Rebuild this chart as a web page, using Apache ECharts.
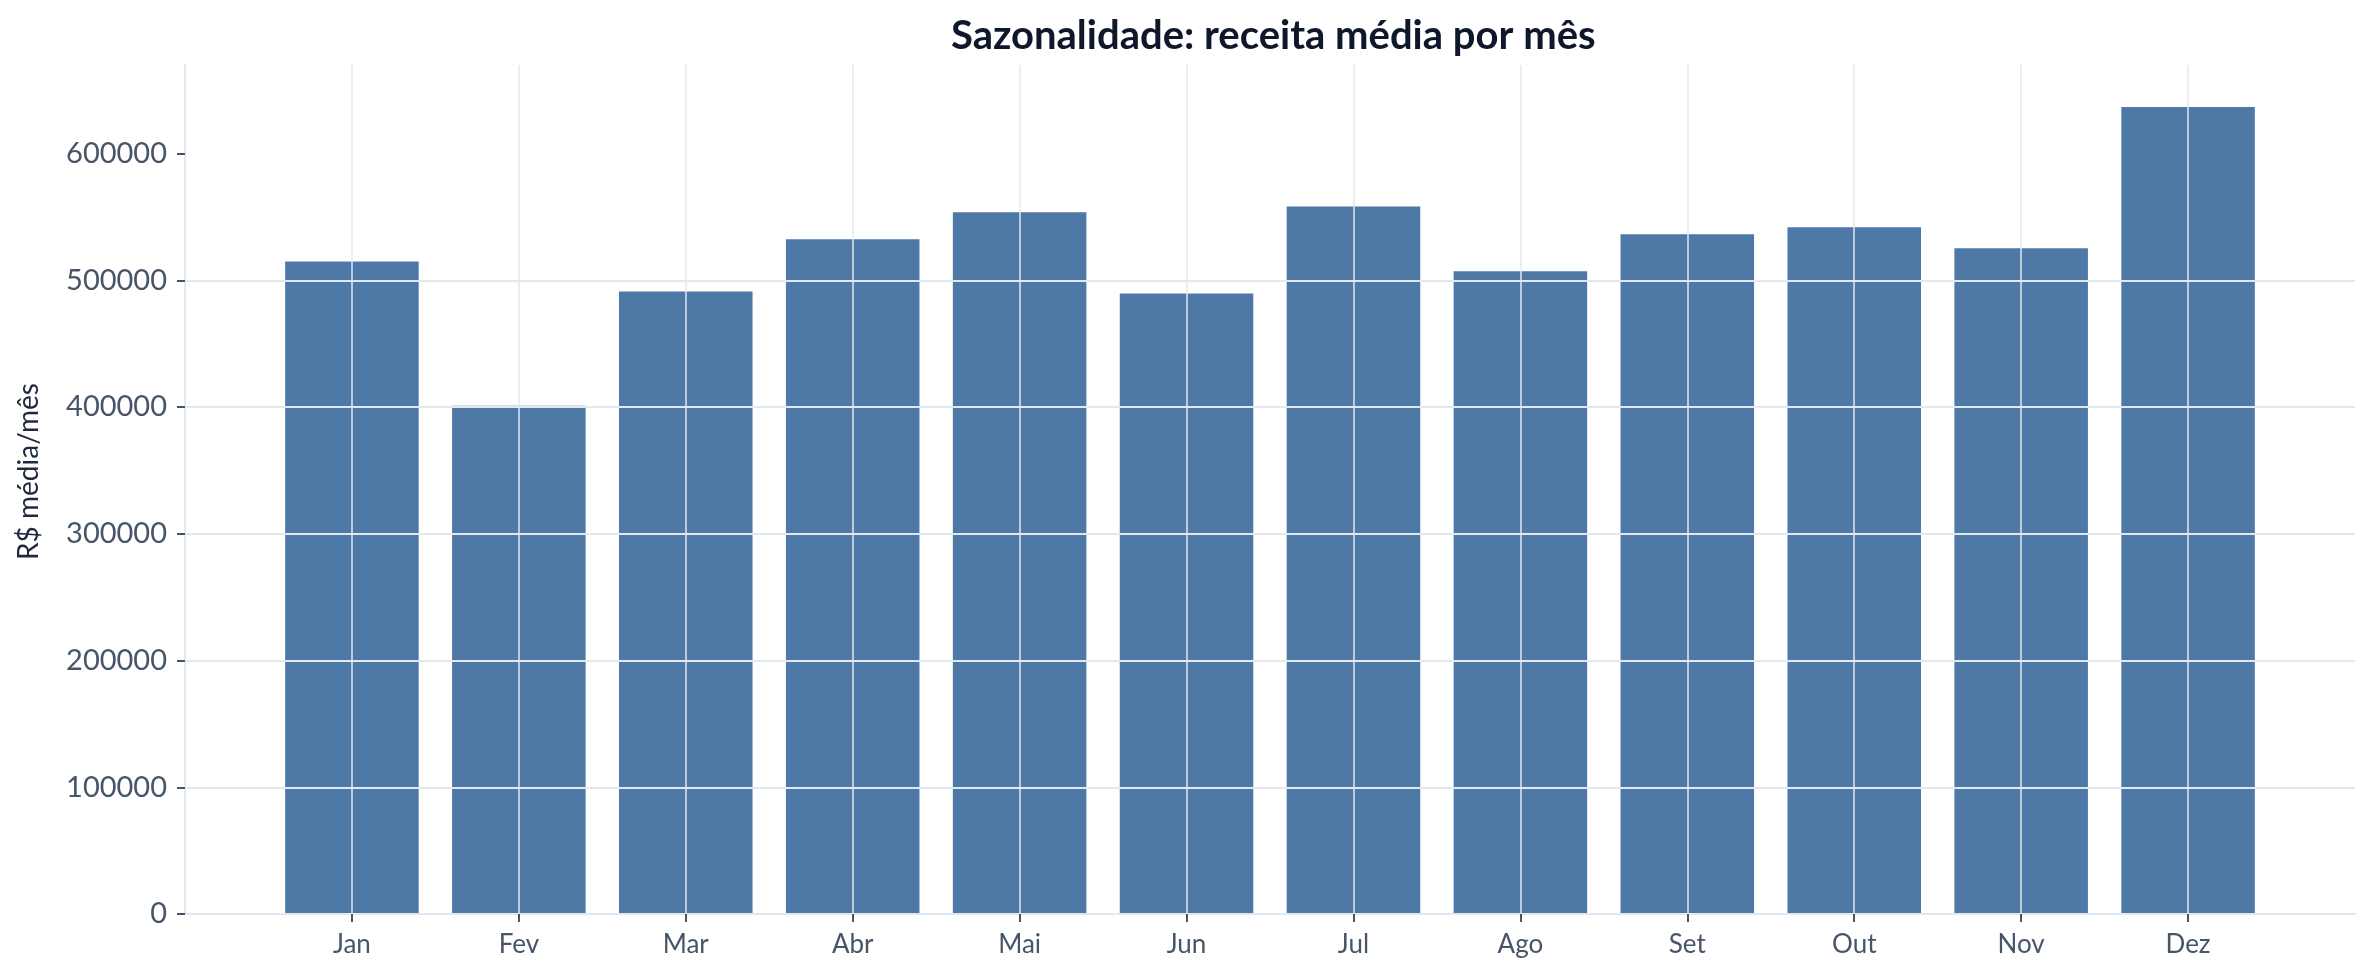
<!DOCTYPE html>
<html>
<head>
<meta charset="utf-8">
<script src="https://cdn.jsdelivr.net/npm/echarts@6/dist/echarts.min.js"></script>
<style>
  html, body { margin: 0; padding: 0; background: #fff; }
  #chart { width: 2378px; height: 980px; }
</style>
</head>
<body>
<div id="chart"></div>
<script>
// meses e receita média (R$)
var months = ['Jan', 'Fev', 'Mar', 'Abr', 'Mai', 'Jun', 'Jul', 'Ago', 'Set', 'Out', 'Nov', 'Dez'];
var revenue = [515000, 401000, 491300, 532400, 553700, 489700, 558400, 507300, 536400, 541900, 525400, 636900];
var yTicks = [0, 100000, 200000, 300000, 400000, 500000, 600000];

var FONT = 'Lato';
var gridColor = '#e2e8f0';
var textColor = '#475569';

// uma categoria vazia em cada ponta para dar a margem do eixo x
var cats = [''].concat(months, ['']);
var vals = [null].concat(revenue, [null]);
function inside(i) { return i > 0 && i < cats.length - 1; }

var chart = echarts.init(document.getElementById('chart'));
chart.setOption({
  animation: false,
  title: {
    text: 'Sazonalidade: receita média por mês',
    left: 946,
    top: 11,
    textStyle: { fontFamily: FONT, fontSize: 40, fontWeight: 'bold', color: '#0f172a' }
  },
  grid: { left: 185, right: 23, top: 65, bottom: 66 },
  xAxis: {
    type: 'category',
    data: cats,
    boundaryGap: false,
    z: 3,
    axisLine: { lineStyle: { color: gridColor, width: 2 } },
    axisTick: { interval: function (i) { return inside(i); }, length: 8, lineStyle: { color: textColor, width: 2 } },
    axisLabel: { interval: 0, margin: 18, fontFamily: FONT, fontSize: 26, color: textColor },
    splitLine: { show: true, interval: function (i) { return inside(i); }, lineStyle: { color: gridColor, width: 1.5 } }
  },
  yAxis: {
    type: 'value',
    min: 0,
    max: 670000,
    interval: 100000,
    z: 3,
    name: 'R$ média/mês',
    nameLocation: 'middle',
    nameRotate: 90,
    nameGap: 142,
    nameTextStyle: { fontFamily: FONT, fontSize: 28, color: '#1e293b', padding: [0, 0, 0, 36] },
    axisLine: { show: true, lineStyle: { color: gridColor, width: 2 } },
    axisTick: { show: true, length: 8, customValues: yTicks, lineStyle: { color: textColor, width: 2 } },
    axisLabel: {
      margin: 18, fontFamily: FONT, fontSize: 29, color: textColor,
      customValues: yTicks,
      formatter: function (v) { return v % 100000 === 0 ? String(v) : ''; }
    },
    splitLine: { show: true, showMinLine: false, showMaxLine: false, lineStyle: { color: gridColor, width: 2 } }
  },
  series: [{
    type: 'bar',
    data: vals,
    barWidth: '80%',
    itemStyle: { color: '#4e79a7' }
  }]
});
</script>
</body>
</html>
